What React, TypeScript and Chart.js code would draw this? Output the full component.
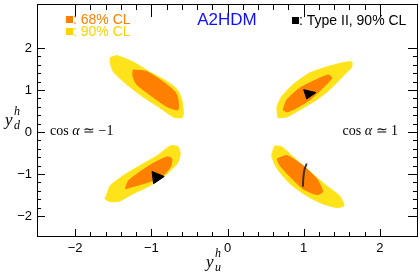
import React, { useEffect, useRef } from "react";
import { Chart, registerables } from "chart.js";

Chart.register(...registerables);

// ---- data ----
const xMajorTicks = [-2, -1, 0, 1, 2];
const yMajorTicks = [-2, -1, 0, 1, 2];
const xMinorTicks = [-1.8, -1.6, -1.4, -1.2, -0.8, -0.6, -0.4, -0.2, 0.2, 0.4, 0.6, 0.8, 1.2, 1.4, 1.6, 1.8];
const yMinorTicks = [-1.8, -1.6, -1.4, -1.2, -0.8, -0.6, -0.4, -0.2, 0.2, 0.4, 0.6, 0.8, 1.2, 1.4, 1.6, 1.8];

// 90% CL regions (yellow)
const cl90UpperLeft: [number, number][] = [
  [-1.54, 1.77], [-1.45, 1.82], [-1.24, 1.67], [-1.02, 1.43], [-0.79, 1.2], [-0.66, 1.01],
  [-0.6, 0.77], [-0.58, 0.46], [-0.6, 0.34], [-0.71, 0.36], [-0.89, 0.58], [-1.11, 0.84],
  [-1.32, 1.13], [-1.5, 1.44], [-1.54, 1.66],
];
const cl90UpperRight: [number, number][] = [
  [0.66, 0.34], [0.65, 0.6], [0.71, 0.84], [0.86, 1.13], [1.08, 1.41], [1.3, 1.55],
  [1.51, 1.65], [1.63, 1.67], [1.63, 1.55], [1.51, 1.32], [1.34, 1.01], [1.17, 0.77],
  [0.95, 0.53], [0.78, 0.36],
];
const cl90LowerLeft: [number, number][] = [
  [-1.61, -1.59], [-1.54, -1.66], [-1.41, -1.64], [-1.24, -1.47], [-1.02, -1.28], [-0.79, -0.99],
  [-0.66, -0.75], [-0.62, -0.52], [-0.65, -0.35], [-0.75, -0.33], [-0.92, -0.56], [-1.15, -0.8],
  [-1.37, -1.04], [-1.54, -1.28], [-1.58, -1.47],
];
const cl90LowerRight: [number, number][] = [
  [0.62, -0.33], [0.71, -0.35], [0.86, -0.59], [1.08, -0.94], [1.3, -1.28], [1.47, -1.52],
  [1.53, -1.75], [1.44, -1.8], [1.25, -1.71], [1.04, -1.52], [0.82, -1.23], [0.65, -0.87],
  [0.58, -0.56],
];

// 68% CL regions (orange)
const cl68UpperLeft: [number, number][] = [
  [-1.24, 1.48], [-1.06, 1.44], [-0.85, 1.2], [-0.69, 0.96], [-0.65, 0.77], [-0.65, 0.53],
  [-0.79, 0.6], [-1.02, 0.89], [-1.19, 1.13], [-1.24, 1.32],
];
const cl68UpperRight: [number, number][] = [
  [0.73, 0.53], [0.78, 0.77], [0.95, 1.05], [1.17, 1.25], [1.32, 1.36], [1.37, 1.29],
  [1.25, 1.05], [1.08, 0.77], [0.91, 0.58], [0.78, 0.48],
];
const cl68LowerLeft: [number, number][] = [
  [-1.34, -1.35], [-1.24, -1.3], [-1.02, -1.18], [-0.85, -1.04], [-0.75, -0.83], [-0.73, -0.64],
  [-0.79, -0.59], [-0.98, -0.75], [-1.15, -0.95], [-1.3, -1.16],
];
const cl68LowerRight: [number, number][] = [
  [0.65, -0.64], [0.78, -0.56], [0.99, -0.8], [1.17, -1.11], [1.25, -1.42], [1.17, -1.49],
  [0.99, -1.35], [0.82, -1.06], [0.69, -0.8],
];

// Type II, 90% CL (black)
const typeIIUpperRight: [number, number][] = [[1.0, 1.01], [1.04, 0.79], [1.16, 0.94]];
const typeIILowerLeft: [number, number][] = [[-0.99, -0.94], [-0.97, -1.23], [-0.83, -1.06]];
const typeIILowerRight: [number, number][] = [[1.04, -0.75], [1.01, -0.9], [0.995, -1.1], [0.99, -1.3]];

const YELLOW = "#ffe31a";
const ORANGE = "#ff8000";
const SANS = '"Liberation Sans", Arial, Helvetica, sans-serif';
const SERIF = '"Liberation Serif", "Times New Roman", serif';

function toPts(p: [number, number][], close = true) {
  const pts = p.map(([x, y]) => ({ x, y }));
  if (close) pts.push({ x: p[0][0], y: p[0][1] });
  return pts;
}

function region(p: [number, number][], color: string, order: number) {
  return {
    data: toPts(p),
    showLine: true,
    fill: "shape",
    backgroundColor: color,
    borderColor: color,
    borderWidth: 1,
    pointRadius: 0,
    tension: 0.2,
    order,
  };
}

const fmt = (v: number) => (v < 0 ? "\u2212" + Math.abs(v) : String(v));
const isMajor = (v: number) => Math.abs(v - Math.round(v)) < 1e-6;

const decorPlugin = {
  id: "decor",
  afterDraw(chart: any) {
    const { ctx, chartArea: a, scales } = chart;
    const xs = scales.x;
    const ys = scales.y;
    ctx.save();
    ctx.strokeStyle = "#000";
    ctx.lineWidth = 1;
    ctx.strokeRect(a.left + 0.5, a.top + 0.5, a.right - a.left - 1, a.bottom - a.top - 1);
    const xt = [...xMajorTicks, ...xMinorTicks];
    ctx.beginPath();
    for (const v of xt) {
      const px = Math.round(xs.getPixelForValue(v)) + 0.5;
      const m = isMajor(v);
      ctx.moveTo(px, a.bottom);
      ctx.lineTo(px, a.bottom - (m ? 8 : 5));
      ctx.moveTo(px, a.top);
      ctx.lineTo(px, a.top + (m ? 13 : 6));
    }
    const yt = [...yMajorTicks, ...yMinorTicks];
    for (const v of yt) {
      const py = Math.round(ys.getPixelForValue(v)) + 0.5;
      const m = isMajor(v);
      ctx.moveTo(a.left, py);
      ctx.lineTo(a.left + (m ? 8 : 4), py);
      ctx.moveTo(a.right, py);
      ctx.lineTo(a.right - (m ? 10 : 5), py);
    }
    ctx.stroke();

    // legend texts
    ctx.textBaseline = "middle";
    ctx.textAlign = "left";
    ctx.font = `14px ${SANS}`;
    ctx.fillStyle = ORANGE;
    ctx.fillRect(66, 16, 7, 7);
    ctx.fillText(": 68% CL", 73, 20);
    ctx.fillStyle = "#ffd200";
    ctx.fillRect(66, 28, 7, 7);
    ctx.fillText(": 90% CL", 73, 32);
    ctx.fillStyle = "#000";
    ctx.fillRect(292, 17, 7, 7);
    ctx.fillText(": Type II, 90% CL", 299, 21);
    ctx.font = `17px ${SANS}`;
    ctx.fillStyle = "#1010ff";
    ctx.textAlign = "center";
    ctx.fillText("A2HDM", 227, 20);

    // cos alpha labels
    const drawCos = (x: number, y: number, tail: string, alignRight: boolean) => {
      ctx.textAlign = "left";
      const f1 = `14px ${SERIF}`;
      const f2 = `italic 14px ${SERIF}`;
      ctx.font = f1;
      const w1 = ctx.measureText("cos ").width;
      ctx.font = f2;
      const w2 = ctx.measureText("\u03b1").width;
      ctx.font = f1;
      const w3 = ctx.measureText(tail).width;
      const sx = alignRight ? x - (w1 + w2 + w3) : x;
      ctx.fillStyle = "#000";
      ctx.font = f1;
      ctx.fillText("cos ", sx, y);
      ctx.font = f2;
      ctx.fillText("\u03b1", sx + w1, y);
      ctx.font = f1;
      ctx.fillText(tail, sx + w1 + w2, y);
    };
    drawCos(50, 131, " \u2243 \u22121", false);
    drawCos(398, 131, " \u2243 1", true);

    // axis titles
    ctx.textBaseline = "alphabetic";
    ctx.textAlign = "left";
    ctx.fillStyle = "#000";
    ctx.font = `italic 17px ${SERIF}`;
    ctx.fillText("y", 206, 267);
    ctx.font = `italic 12px ${SERIF}`;
    ctx.fillText("h", 215, 257);
    ctx.fillText("u", 215, 271);

    ctx.font = `italic 17px ${SERIF}`;
    ctx.fillText("y", 5, 125);
    ctx.font = `italic 12px ${SERIF}`;
    ctx.fillText("h", 14, 115);
    ctx.fillText("d", 14, 129);
    ctx.restore();
  },
};

export default function App() {
  const ref = useRef<HTMLCanvasElement | null>(null);
  useEffect(() => {
    document.body.style.margin = "0";
    const canvas = ref.current!;
    const chart = new Chart(canvas, {
      type: "scatter",
      data: {
        datasets: [
          region(cl90UpperLeft, YELLOW, 10),
          region(cl90UpperRight, YELLOW, 10),
          region(cl90LowerLeft, YELLOW, 10),
          region(cl90LowerRight, YELLOW, 10),
          region(cl68UpperLeft, ORANGE, 8),
          region(cl68UpperRight, ORANGE, 8),
          region(cl68LowerLeft, ORANGE, 8),
          region(cl68LowerRight, ORANGE, 8),
          {
            data: toPts(typeIIUpperRight),
            showLine: true,
            fill: "shape",
            backgroundColor: "#000",
            borderColor: "#000",
            borderWidth: 1,
            pointRadius: 0,
            order: 2,
          },
          {
            data: toPts(typeIILowerLeft),
            showLine: true,
            fill: "shape",
            backgroundColor: "#000",
            borderColor: "#000",
            borderWidth: 1,
            pointRadius: 0,
            order: 2,
          },
          {
            data: toPts(typeIILowerRight, false),
            showLine: true,
            fill: false,
            borderColor: "rgba(30,30,30,0.85)",
            borderWidth: 2,
            tension: 0.4,
            pointRadius: 0,
            order: 2,
          },
        ] as any,
      },
      options: {
        animation: false,
        responsive: false,
        layout: { padding: { top: 4, right: 2, left: 0, bottom: 0 } },
        plugins: { legend: { display: false }, tooltip: { enabled: false } },
        scales: {
          x: {
            type: "linear",
            min: -2.5,
            max: 2.5,
            grid: { display: false, drawTicks: false },
            border: { display: false },
            ticks: {
              stepSize: 1,
              padding: 4,
              color: "#000",
              font: { family: SANS, size: 13 },
              callback: (v: any) => fmt(Number(v)),
            },
            afterBuildTicks: (s: any) => {
              s.ticks = xMajorTicks.map((v) => ({ value: v }));
            },
            afterFit: (s: any) => {
              s.height = 41;
              s.paddingLeft = 0;
              s.paddingRight = 0;
            },
          },
          y: {
            type: "linear",
            min: -2.5,
            max: 3.05,
            grid: { display: false, drawTicks: false },
            border: { display: false },
            ticks: {
              padding: 5,
              color: "#000",
              font: { family: SANS, size: 13 },
              callback: (v: any) => fmt(Number(v)),
            },
            afterBuildTicks: (s: any) => {
              s.ticks = yMajorTicks.map((v) => ({ value: v }));
            },
            afterFit: (s: any) => {
              s.width = 37;
              s.paddingTop = 0;
              s.paddingBottom = 0;
            },
          },
        },
      },
      plugins: [decorPlugin],
    });
    return () => chart.destroy();
  }, []);
  return <canvas ref={ref} width={420} height={278} style={{ display: "block" }} />;
}
